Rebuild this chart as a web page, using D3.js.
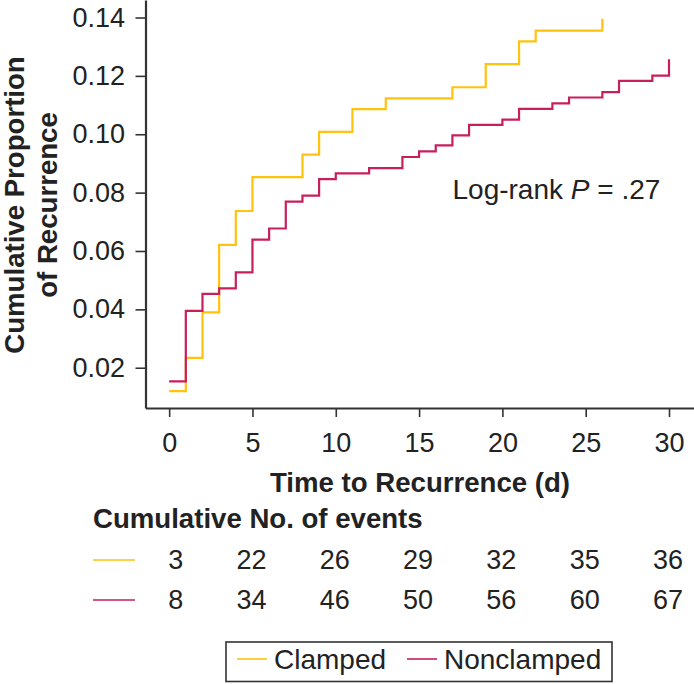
<!DOCTYPE html>
<html>
<head>
<meta charset="utf-8">
<script src="https://cdn.jsdelivr.net/npm/d3@7"></script>
<style>
	body { margin: 0; background: #fff; }
	text { font-family: 'Liberation Sans', Arial, Helvetica, sans-serif; }
</style>
</head>
<body>
<div id="container"></div>
<script>
'use strict';

// step curves
const clampedDays = [0, 1, 2, 3, 4, 5, 8, 9, 11, 13, 17, 19, 21, 22, 26];
const clampedProp = [0.012, 0.0234, 0.039, 0.0621, 0.0737, 0.0853, 0.093, 0.1008, 0.1086, 0.1123, 0.1161, 0.124, 0.1318, 0.1355, 0.1396];

const nonclampedDays = [0, 1, 2, 3, 4, 5, 6, 7, 8, 9, 10, 12, 14, 15, 16, 17, 18, 20, 21, 23, 24, 26, 27, 29, 30];
const nonclampedProp = [0.0153, 0.0395, 0.0453, 0.0472, 0.0527, 0.0639, 0.0677, 0.0769, 0.079, 0.0846, 0.0866, 0.0884, 0.0922, 0.0941, 0.0962, 0.0996, 0.1032, 0.105, 0.1087, 0.1106, 0.1126, 0.1144, 0.1183, 0.1201, 0.1257];

const xTicks = [0, 5, 10, 15, 20, 25, 30];
const yTicks = [0.02, 0.04, 0.06, 0.08, 0.1, 0.12, 0.14];

const groups = ['Clamped', 'Nonclamped'];
const eventsClamped = [3, 22, 26, 29, 32, 35, 36];
const eventsNonclamped = [8, 34, 46, 50, 56, 60, 67];

let options = {
	width: 694,
	height: 684,
	font: 27,
	bigFont: 28,
	boldFont: 27.6,
	axisColor: '#333',
	textColor: '#222',
	colors: ['#FFC20E', '#C71E5C'],
};

let svg = d3.select('#container')
	.append('svg')
	.attr('width', options.width)
	.attr('height', options.height);

let x = d3.scaleLinear().domain([-1.42, 31.5]).range([145.5, 694]);
let y = d3.scaleLinear().domain([0.0062, 0.146]).range([408, 0]);

// axes
let xAxis = svg.append('g')
	.attr('transform', 'translate(0,408)')
	.call(d3.axisBottom(x).tickValues(xTicks).tickSize(9).tickSizeOuter(0).tickPadding(16));
let yAxis = svg.append('g')
	.attr('transform', 'translate(145.5,0)')
	.call(d3.axisLeft(y).tickValues(yTicks).tickSize(10).tickSizeOuter(0).tickPadding(10.5).tickFormat(d3.format('.2f')));

[xAxis, yAxis].forEach((g) => {
	g.attr('color', options.axisColor);
	g.select('.domain').attr('stroke-width', 2.2);
	g.selectAll('.tick line').attr('stroke-width', 1.6);
	g.selectAll('.tick text')
		.attr('font-size', options.font)
		.attr('font-family', "'Liberation Sans', Arial, sans-serif")
		.attr('fill', options.textColor);
});

// curves
let line = d3.line()
	.x((d) => x(d[0]))
	.y((d) => y(d[1]))
	.curve(d3.curveStepAfter);

let series = [
	d3.zip(clampedDays, clampedProp),
	d3.zip(nonclampedDays, nonclampedProp),
];

svg.selectAll('path.km')
	.data(series)
	.enter()
	.append('path')
	.attr('class', 'km')
	.attr('fill', 'none')
	.attr('stroke', (d, i) => options.colors[i])
	.attr('stroke-width', 2.2)
	.attr('d', line);

// log-rank note
let note = svg.append('text')
	.attr('x', 452.5)
	.attr('y', 199)
	.attr('font-size', options.bigFont)
	.attr('fill', options.textColor);
note.append('tspan').text('Log-rank ');
note.append('tspan').attr('font-style', 'italic').text('P');
note.append('tspan').text(' = .27');

// axis titles
let yTitle = svg.append('text')
	.attr('transform', 'translate(0,205) rotate(-90)')
	.attr('text-anchor', 'middle')
	.attr('font-size', options.boldFont)
	.attr('font-weight', 'bold')
	.attr('fill', options.textColor);
yTitle.append('tspan').attr('x', 0).attr('y', 24).text('Cumulative Proportion');
yTitle.append('tspan').attr('x', 0).attr('y', 57).text('of Recurrence');

svg.append('text')
	.attr('x', 420)
	.attr('y', 492)
	.attr('text-anchor', 'middle')
	.attr('font-size', options.boldFont)
	.attr('font-weight', 'bold')
	.attr('fill', options.textColor)
	.text('Time to Recurrence (d)');

// cumulative events table
svg.append('text')
	.attr('x', 93)
	.attr('y', 528)
	.attr('font-size', options.boldFont)
	.attr('font-weight', 'bold')
	.attr('fill', options.textColor)
	.text('Cumulative No. of events');

let rows = [eventsClamped, eventsNonclamped];
let rowY = [560, 600];

rows.forEach((row, r) => {
	svg.append('line')
		.attr('x1', 93)
		.attr('x2', 135)
		.attr('y1', rowY[r])
		.attr('y2', rowY[r])
		.attr('stroke', options.colors[r])
		.attr('stroke-width', 1.6);

	svg.selectAll('text.row' + r)
		.data(row)
		.enter()
		.append('text')
		.attr('class', 'row' + r)
		.attr('x', (d, i) => x(xTicks[i]) + 14)
		.attr('y', rowY[r])
		.attr('dy', '0.35em')
		.attr('text-anchor', 'end')
		.attr('font-size', options.font)
		.attr('fill', options.textColor)
		.text((d) => d);
});

// legend
let legend = svg.append('g');
legend.append('rect')
	.attr('x', 226)
	.attr('y', 642)
	.attr('width', 386)
	.attr('height', 39.5)
	.attr('fill', 'none')
	.attr('stroke', options.axisColor)
	.attr('stroke-width', 1.6);

let legendX = [237, 407];
groups.forEach((name, i) => {
	legend.append('line')
		.attr('x1', legendX[i])
		.attr('x2', legendX[i] + 30)
		.attr('y1', 659)
		.attr('y2', 659)
		.attr('stroke', options.colors[i])
		.attr('stroke-width', 1.6);
	legend.append('text')
		.attr('x', legendX[i] + 37)
		.attr('y', 659)
		.attr('dy', '0.35em')
		.attr('font-size', options.bigFont)
		.attr('fill', options.textColor)
		.text(name);
});
</script>
</body>
</html>
